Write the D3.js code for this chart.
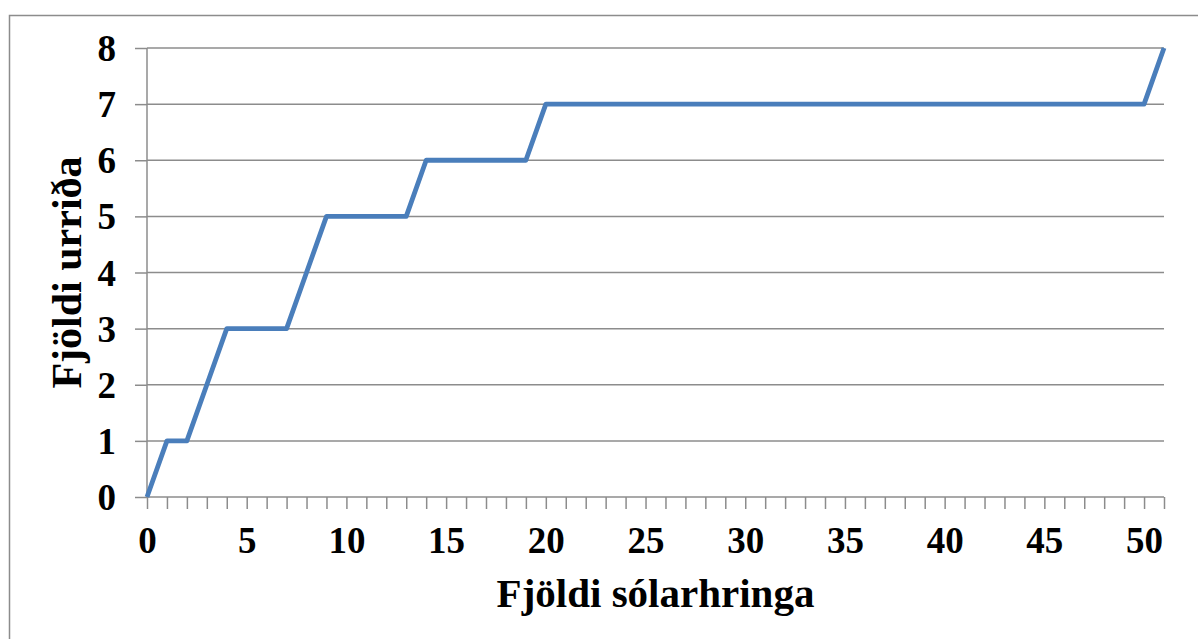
<!DOCTYPE html>
<html><head><meta charset="utf-8">
<script src="https://cdn.jsdelivr.net/npm/d3@7"></script>
<style>body{margin:0;background:#fff}svg{display:block}</style>
</head><body>
<svg id="c" width="1198" height="639"></svg>
<script>
const days = d3.range(0, 52);
const trout = [0,1,1,2,3,3,3,3,4,5,5,5,5,5,6,6,6,6,6,6,
  7,7,7,7,7,7,7,7,7,7,7,7,7,7,7,7,7,7,7,7,7,7,7,7,7,7,7,7,7,7,7,8];
const yTicks = [0,1,2,3,4,5,6,7,8];
const xTickLabels = [0,5,10,15,20,25,30,35,40,45,50];
const xTitle = "Fjöldi sólarhringa";
const yTitle = "Fjöldi urriða";

const svg = d3.select("#c");
const L = 147, R = 1164, T = 48, B = 497;
const font = "'Liberation Serif','Times New Roman',serif";
const grid = "#8c8c8c";

svg.append("rect").attr("x", 9.5).attr("y", 15.5).attr("width", 1250).attr("height", 700)
  .attr("fill", "none").attr("stroke", "#8c8c8c").attr("stroke-width", 1.5);

const x = d3.scaleLinear().domain([0, 51]).range([L, R]);
const y = d3.scaleLinear().domain([0, 8]).range([B, T]);

// gridlines
svg.append("g").selectAll("line").data(yTicks.filter(d => d > 0)).join("line")
  .attr("x1", L).attr("x2", R).attr("y1", d => y(d)).attr("y2", d => y(d))
  .attr("stroke", grid).attr("stroke-width", 1.5);

// y axis
const ya = svg.append("g").attr("transform", `translate(${L},0)`)
  .call(d3.axisLeft(y).tickValues(yTicks).tickSize(12).tickPadding(19).tickFormat(d3.format("d")));
ya.select(".domain").attr("stroke", grid).attr("stroke-width", 1.5).attr("d", `M0,${B}V${T}`);
ya.selectAll(".tick line").attr("stroke", grid).attr("stroke-width", 1.5);
ya.selectAll("text").attr("font-family", font).attr("font-weight", "bold").attr("font-size", 37)
  .attr("fill", "#000").attr("dy", "0.34em");

// x axis
const xa = svg.append("g").attr("transform", `translate(0,${B})`)
  .call(d3.axisBottom(x).tickValues(days).tickSize(12).tickPadding(18)
    .tickFormat(d => xTickLabels.includes(d) ? d : ""));
xa.select(".domain").attr("stroke", grid).attr("stroke-width", 1.5).attr("d", `M${L},0H${R}`);
xa.selectAll(".tick line").attr("stroke", grid).attr("stroke-width", 1.5);
xa.selectAll("text").attr("font-family", font).attr("font-weight", "bold").attr("font-size", 37)
  .attr("fill", "#000");

// line
const line = d3.line().x((d, i) => x(days[i])).y(d => y(d));
svg.append("path").datum(trout).attr("d", line).attr("fill", "none")
  .attr("stroke", "#4a7ebb").attr("stroke-width", 4.8).attr("stroke-linejoin", "round");

// titles
svg.append("text").attr("x", (L + R) / 2).attr("y", 607).attr("text-anchor", "middle")
  .attr("font-family", font).attr("font-weight", "bold").attr("font-size", 41).text(xTitle);
svg.append("text").attr("transform", `translate(81,${(T + B) / 2}) rotate(-90)`).attr("text-anchor", "middle")
  .attr("font-family", font).attr("font-weight", "bold").attr("font-size", 42).text(yTitle);
</script>
</body></html>
